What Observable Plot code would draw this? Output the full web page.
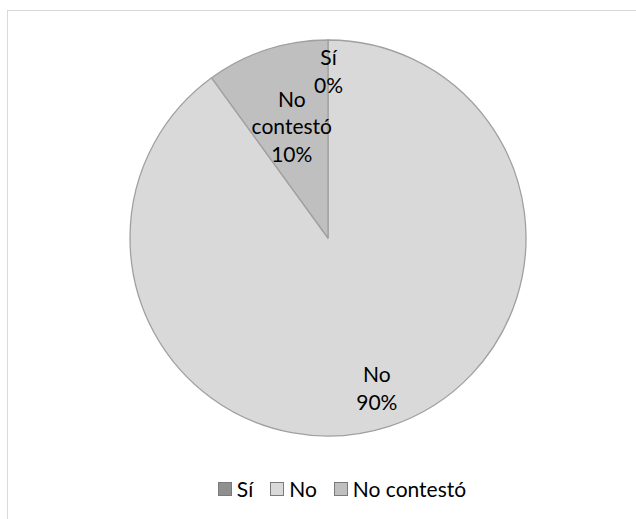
<!DOCTYPE html>
<html>
<head>
<meta charset="utf-8">
<script src="https://cdn.jsdelivr.net/npm/d3@7"></script>
<script src="https://cdn.jsdelivr.net/npm/@observablehq/plot@0.6"></script>
<style>
  html, body { margin: 0; padding: 0; background: #fff; overflow: hidden; }
  body { width: 636px; height: 519px; position: relative; font-family: Lato, "Open Sans", sans-serif; }
  #frame { position: absolute; left: 7px; top: 10px; width: 700px; height: 600px;
           border-left: 1.5px solid #d9d9d9; border-top: 1.5px solid #d9d9d9; box-sizing: border-box; }
  #chart { position: absolute; left: 0; top: 0; }
  #legend { position: absolute; left: 6px; width: 672px; top: 472px; }
  #legend .key-swatches { display: flex !important; justify-content: center !important; align-items: center;
                          font-family: Lato, sans-serif !important; font-size: 21px !important;
                          color: #000; margin: 0 !important; min-height: 33px; }
  #legend .key-swatch { display: inline-flex; align-items: center; margin-right: 17px !important; }
  #legend .key-swatch:last-of-type { margin-right: 0 !important; }
  #legend .key-swatch > svg { margin-right: 5px !important; }
  #legend .key-swatch rect { stroke: #7a7a7a; stroke-width: 1px; x: 0.5px; y: 0.5px; width: 13px; height: 13px; }
</style>
</head>
<body>
<div id="frame"></div>
<div id="chart"></div>
<div id="legend"></div>
<script>
// Survey answers and their shares (percent)
const categories = ["Sí", "No", "No contestó"];
const percents = [0, 90, 10];

// Slice colours, one per category
const sliceColors = ["#8f8f8f", "#d9d9d9", "#bfbfbf"];
// How far from the centre each label sits, as a fraction of the radius
const labelDistance = {"Sí": 0.85, "No": 0.79, "No contestó": 0.6};

const rows = categories.map((name, i) => ({name, pct: percents[i]}));
const arcs = d3.pie().sort(null).value(d => d.pct)(rows);

const labels = arcs.map(a => {
  const mid = (a.startAngle + a.endAngle) / 2;
  const d = labelDistance[a.data.name];
  return {
    x: Math.sin(mid) * d,
    y: Math.cos(mid) * d,
    text: a.data.name.replace(" ", "\n") + "\n" + a.data.pct + "%"
  };
});

const color = d3.scaleOrdinal(categories, sliceColors);

// Pie slices drawn from the pie layout, placed with the plot's x/y scales
function pieSlices(index, scales) {
  const cx = scales.x(0), cy = scales.y(0);
  const r = scales.x(1) - scales.x(0);
  const arc = d3.arc().innerRadius(0).outerRadius(r);
  const g = d3.create("svg:g").attr("transform", `translate(${cx},${cy})`);
  g.selectAll("path")
    .data(arcs)
    .join("path")
      .attr("d", arc)
      .attr("fill", d => color(d.data.name))
      .attr("stroke", "#a0a0a0")
      .attr("stroke-width", 1.3)
      .attr("stroke-linejoin", "round");
  return g.node();
}

const chart = Plot.plot({
  width: 636,
  height: 470,
  marginLeft: 130,
  marginRight: 110,
  marginTop: 40,
  marginBottom: 34,
  x: {domain: [-1, 1], axis: null},
  y: {domain: [-1, 1], axis: null},
  style: {background: "transparent", overflow: "visible"},
  marks: [
    pieSlices,
    Plot.text(labels, {
      x: "x", y: "y", text: "text",
      fontSize: 21, lineHeight: 1.32,
      fontFamily: "Lato, sans-serif",
      fill: "#000"
    })
  ]
});
document.getElementById("chart").append(chart);

const legend = Plot.legend({
  color: {type: "ordinal", domain: categories, range: sliceColors},
  swatchSize: 14,
  className: "key"
});
document.getElementById("legend").append(legend);
</script>
</body>
</html>
